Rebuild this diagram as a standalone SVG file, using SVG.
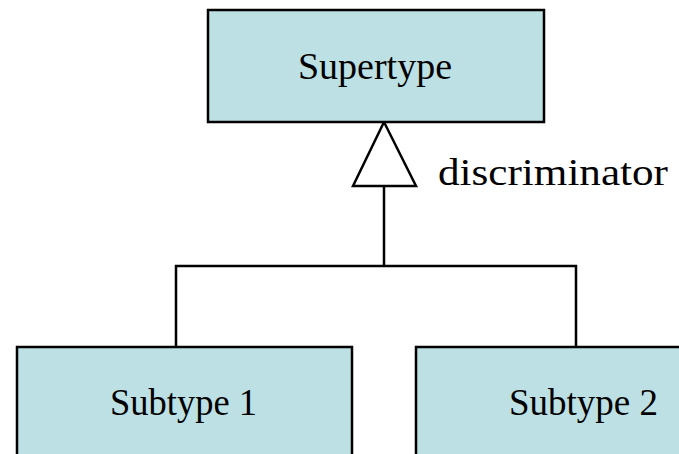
<svg xmlns="http://www.w3.org/2000/svg" width="679" height="454" viewBox="0 0 679 454">
<style>
.box{fill:#BCE0E4;stroke:#000;stroke-width:2.5}
.ln{fill:none;stroke:#000;stroke-width:2.5}
.t{font-family:"Liberation Serif","Times New Roman",serif;font-size:37px;fill:#000}
</style>
<rect width="679" height="454" fill="#fff"/>
<g id="connectors">
<polyline class="ln" points="176,347 176,266 576,266 576,347"/>
<line class="ln" x1="384" y1="266" x2="384" y2="186"/>
<polygon class="ln" points="384,122 353,186 416,186" style="fill:#fff"/>
<text class="t" x="438" y="185" textLength="230" lengthAdjust="spacingAndGlyphs">discriminator</text>
</g>
<g id="supertype">
<rect class="box" x="208" y="10" width="336" height="112"/>
<text class="t" x="298" y="79" textLength="154" lengthAdjust="spacingAndGlyphs">Supertype</text>
</g>
<g id="subtype1">
<rect class="box" x="17" y="347" width="335" height="120"/>
<text class="t" x="110" y="415" textLength="147" lengthAdjust="spacingAndGlyphs">Subtype 1</text>
</g>
<g id="subtype2">
<rect class="box" x="416" y="347" width="280" height="120"/>
<text class="t" x="509" y="415" textLength="149" lengthAdjust="spacingAndGlyphs">Subtype 2</text>
</g>
</svg>
